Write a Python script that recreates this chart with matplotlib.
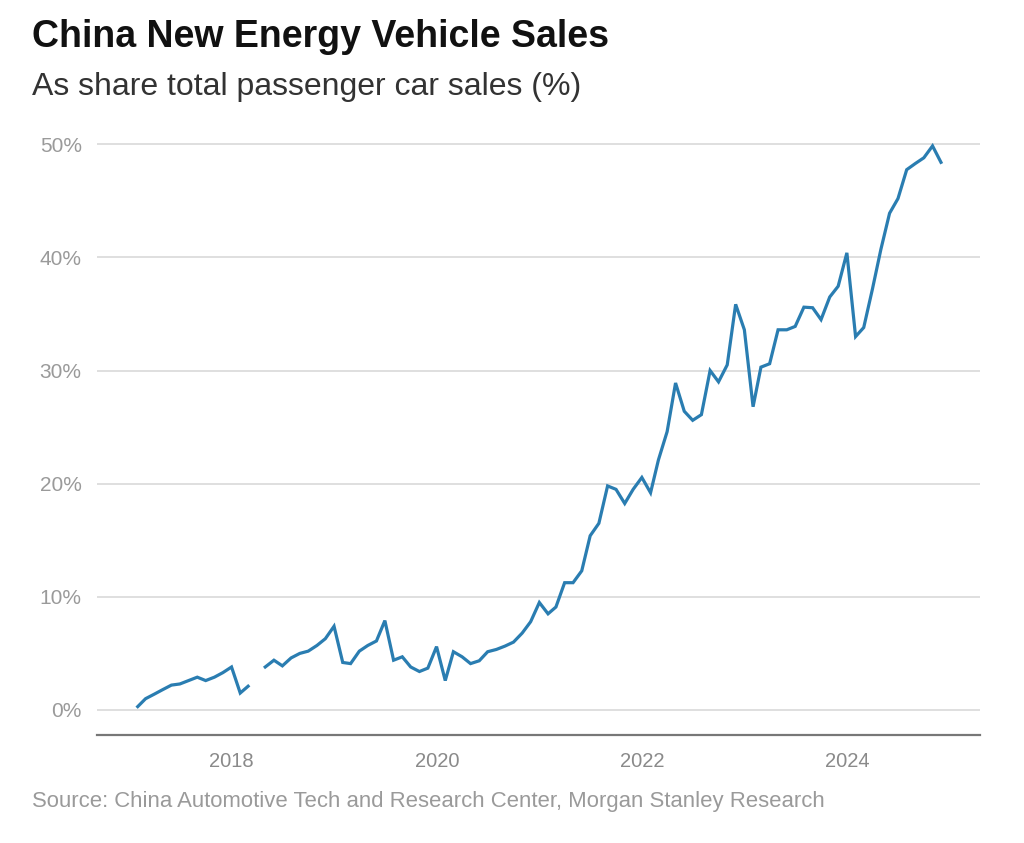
import numpy as np
import pandas as pd
import matplotlib
matplotlib.use("Agg")
import matplotlib.pyplot as plt
import matplotlib.dates as mdates
from matplotlib.ticker import FuncFormatter

plt.rcParams['font.family'] = ['Liberation Sans', 'DejaVu Sans']

# Monthly NEV share of passenger car sales (%), Jan 2017 - Nov 2024 (Apr 2018 missing)
start_month = "2017-01-31"
nev_share = [
    0.3, 1.0, 1.4, 1.8, 2.2, 2.3, 2.6, 2.9, 2.6, 2.9, 3.3, 3.8,        # 2017
    1.5, 2.1, np.nan, 3.8, 4.4, 3.9, 4.6, 5.0, 5.2, 5.7, 6.3, 7.4,     # 2018
    4.2, 4.1, 5.2, 5.7, 6.1, 7.9, 4.4, 4.7, 3.8, 3.4, 3.7, 5.6,        # 2019
    2.6, 5.15, 4.7, 4.1, 4.35, 5.15, 5.35, 5.65, 6.0, 6.8, 7.8, 9.5,   # 2020
    8.5, 9.1, 11.25, 11.25, 12.3, 15.4, 16.5, 19.8, 19.5, 18.25, 19.5, 20.55,  # 2021
    19.2, 22.1, 24.6, 28.9, 26.4, 25.6, 26.1, 30.0, 29.0, 30.5, 35.85, 33.6,  # 2022
    26.8, 30.3, 30.6, 33.6, 33.6, 33.9, 35.6, 35.55, 34.5, 36.5, 37.45, 40.4, # 2023
    33.0, 33.8, 37.2, 40.7, 43.9, 45.2, 47.75, 48.3, 48.8, 49.85, 48.4,       # 2024
]
year_ticks = [2018, 2020, 2022, 2024]
y_ticks = [0, 10, 20, 30, 40, 50]

title = "China New Energy Vehicle Sales"
subtitle = "As share total passenger car sales (%)"
source = "Source: China Automotive Tech and Research Center, Morgan Stanley Research"

dates = pd.date_range(start_month, periods=len(nev_share), freq="ME")

W, H = 1024, 843
fig = plt.figure(figsize=(W / 100, H / 100), dpi=100)
fig.patch.set_facecolor("white")

ax_left, ax_right, ax_bottom, ax_top = 97, 980, 735, 138
ax = fig.add_axes([ax_left / W, 1 - ax_bottom / H, (ax_right - ax_left) / W, (ax_bottom - ax_top) / H])

ax.plot(dates, nev_share, color="#2A7DB1", lw=2.3, solid_joinstyle="miter", zorder=3)

ax.set_xlim(pd.Timestamp("2016-09-08"), pd.Timestamp("2025-04-18"))
ax.set_ylim(-2.21, 50.55)

ax.set_yticks(y_ticks)
ax.yaxis.set_major_formatter(FuncFormatter(lambda v, p: f"{int(v)}%"))
ax.set_xticks([pd.Timestamp(f"{y}-01-01") for y in year_ticks])
ax.xaxis.set_major_formatter(mdates.DateFormatter("%Y"))

ax.grid(axis="y", color="#dcdcdc", lw=1.3, zorder=0)
ax.grid(axis="x", visible=False)
for s in ["top", "right", "left"]:
    ax.spines[s].set_visible(False)
ax.spines["bottom"].set_color("#777777")
ax.spines["bottom"].set_linewidth(1.6)

ax.tick_params(axis="y", length=0, pad=11, labelsize=15, labelcolor="#9a9a9a")
ax.tick_params(axis="x", length=0, pad=12, labelsize=14.5, labelcolor="#8a8a8a")

fig.text(32 / W, 1 - 47 / H, title, fontsize=27, fontweight="bold", color="#111111",
         ha="left", va="baseline")
fig.text(32 / W, 1 - 95 / H, subtitle, fontsize=23, color="#333333",
         ha="left", va="baseline")
fig.text(32 / W, 1 - 807 / H, source, fontsize=15.9, color="#9a9a9a",
         ha="left", va="baseline")

fig.savefig("out.png", dpi=100, facecolor="white")
